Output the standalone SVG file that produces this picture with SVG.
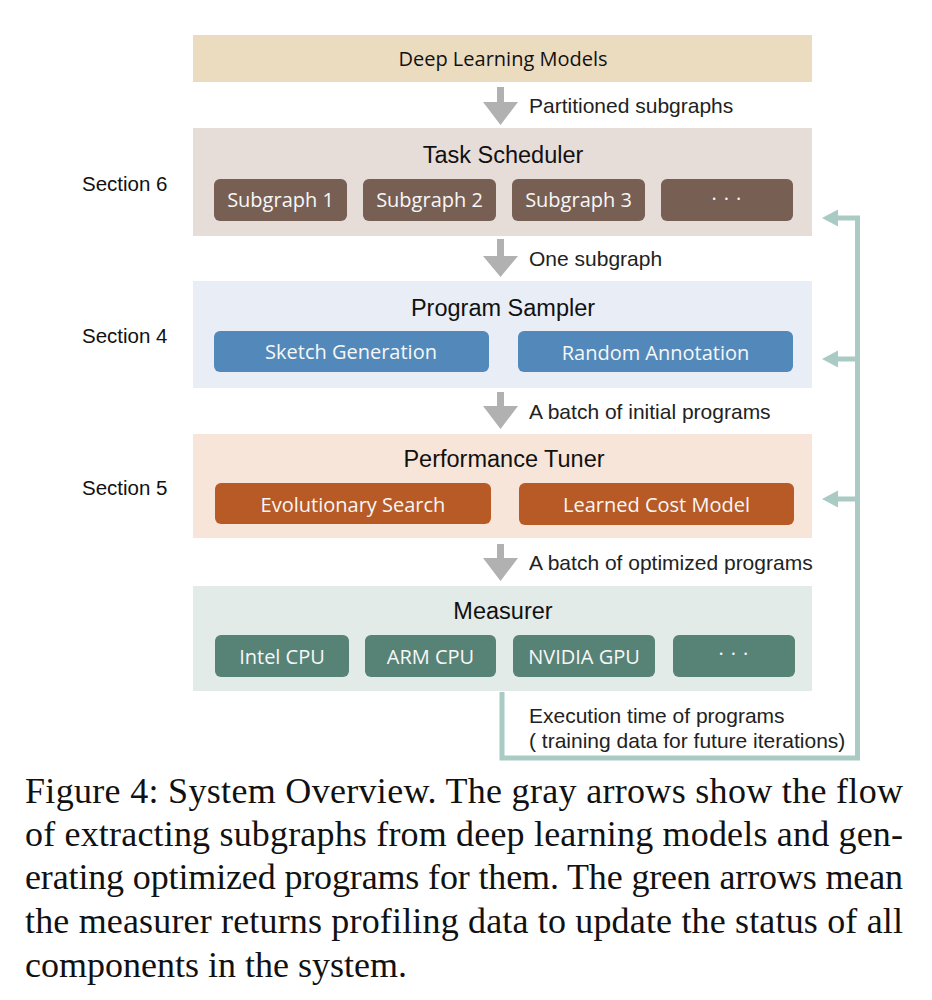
<svg xmlns="http://www.w3.org/2000/svg" width="932" height="1000" viewBox="0 0 932 1000">
  <style>
    .panel-title { font-family: "Liberation Sans", Arial, sans-serif; font-size: 23.5px; fill: #111; text-anchor: middle; }
    .btn-label { font-family: "Open Sans", "Noto Sans", sans-serif; font-size: 20px; fill: #f7f7f7; text-anchor: middle; }
    .flow-label { font-family: "Liberation Sans", Arial, sans-serif; font-size: 21px; fill: #222; }
    .section { font-family: "Liberation Sans", Arial, sans-serif; font-size: 20.5px; fill: #111; }
    .caption { font-family: "Liberation Serif", "Times New Roman", serif; font-size: 36px; fill: #111; }
    .gray-arrow { fill: #b1b1b1; }
    .feedback { fill: none; stroke: #a9cbc3; stroke-width: 5; }
    .feedback-head { fill: #a9cbc3; }
  </style>

  <rect width="932" height="1000" fill="#ffffff"/>

  <!-- Input -->
  <g id="deep-learning-models">
    <rect x="193" y="35" width="619" height="47" fill="#ebdcc0"/>
    <text x="503" y="66" class="btn-label" style="fill:#111">Deep Learning Models</text>
  </g>

  <!-- Task scheduler -->
  <g id="task-scheduler">
    <rect x="193" y="128" width="619" height="108" fill="#e6ddd9"/>
    <text x="503" y="163" class="panel-title">Task Scheduler</text>
    <rect x="214" y="179" width="133" height="42" rx="6" fill="#775f54"/>
    <text x="280.5" y="207" class="btn-label">Subgraph 1</text>
    <rect x="363" y="179" width="133" height="42" rx="6" fill="#775f54"/>
    <text x="429.5" y="207" class="btn-label">Subgraph 2</text>
    <rect x="512" y="179" width="133" height="42" rx="6" fill="#775f54"/>
    <text x="578.5" y="207" class="btn-label">Subgraph 3</text>
    <rect x="661" y="179" width="132" height="42" rx="6" fill="#775f54"/>
    <text x="730" y="206" class="btn-label" letter-spacing="7">···</text>
  </g>

  <!-- Program sampler -->
  <g id="program-sampler">
    <rect x="193" y="281" width="619" height="107" fill="#e9eef6"/>
    <text x="503" y="316" class="panel-title">Program Sampler</text>
    <rect x="214" y="331" width="275" height="41" rx="6" fill="#5389ba"/>
    <text x="351" y="359" class="btn-label">Sketch Generation</text>
    <rect x="518" y="331" width="275" height="41" rx="6" fill="#5389ba"/>
    <text x="655.5" y="360" class="btn-label">Random Annotation</text>
  </g>

  <!-- Performance tuner -->
  <g id="performance-tuner">
    <rect x="193" y="434" width="619" height="104" fill="#f8e5da"/>
    <text x="504" y="467" class="panel-title">Performance Tuner</text>
    <rect x="215" y="483" width="276" height="41" rx="6" fill="#b85a25"/>
    <text x="353" y="512" class="btn-label">Evolutionary Search</text>
    <rect x="519" y="483" width="275" height="42" rx="6" fill="#b85a25"/>
    <text x="656.5" y="512" class="btn-label">Learned Cost Model</text>
  </g>

  <!-- Measurer -->
  <g id="measurer">
    <rect x="193" y="586" width="619" height="105" fill="#e3ebe8"/>
    <text x="503" y="619" class="panel-title">Measurer</text>
    <rect x="215" y="635" width="134" height="42" rx="6" fill="#578377"/>
    <text x="282" y="664" class="btn-label">Intel CPU</text>
    <rect x="365" y="635" width="131" height="42" rx="6" fill="#578377"/>
    <text x="430.5" y="664" class="btn-label">ARM CPU</text>
    <rect x="513" y="635" width="142" height="42" rx="6" fill="#578377"/>
    <text x="584" y="664" class="btn-label">NVIDIA GPU</text>
    <rect x="673" y="635" width="122" height="42" rx="6" fill="#578377"/>
    <text x="737" y="661" class="btn-label" letter-spacing="7">···</text>
  </g>

  <!-- Section labels -->
  <g id="section-labels">
    <text x="82" y="191" class="section">Section 6</text>
    <text x="82" y="343" class="section">Section 4</text>
    <text x="82" y="495" class="section">Section 5</text>
  </g>

  <!-- Connectors -->
  <g id="connectors">
    <!-- forward flow (gray) -->
    <polygon class="gray-arrow" points="497,87 504,87 504,102 518,102 500.5,125 483,102 497,102"/>
    <text x="529" y="113" class="flow-label">Partitioned subgraphs</text>

    <polygon class="gray-arrow" points="497,239 504,239 504,256 518,256 500.5,277 483,256 497,256"/>
    <text x="529" y="266" class="flow-label">One subgraph</text>

    <polygon class="gray-arrow" points="497,392 504,392 504,406 518,406 500.5,429 483,406 497,406"/>
    <text x="529" y="419" class="flow-label">A batch of initial programs</text>

    <polygon class="gray-arrow" points="497,544 504,544 504,558 518,558 500.5,581 483,558 497,558"/>
    <text x="529" y="570" class="flow-label">A batch of optimized programs</text>

    <!-- feedback loop (green) -->
    <path class="feedback" d="M502,692 V758 H857.5 V218 H836"/>
    <path class="feedback" d="M857.5,359 H836 M857.5,499 H836"/>
    <polygon class="feedback-head" points="822,218 838,209.5 838,226.5"/>
    <polygon class="feedback-head" points="822,359 838,350.5 838,367.5"/>
    <polygon class="feedback-head" points="822,499 838,490.5 838,507.5"/>
    <text x="529" y="723" class="flow-label">Execution time of programs</text>
    <text x="529" y="748" class="flow-label">( training data for future iterations)</text>
  </g>

  <!-- Caption -->
  <g id="caption">
    <text x="25" y="803" class="caption" textLength="878" lengthAdjust="spacing">Figure 4: System Overview. The gray arrows show the flow</text>
    <text x="25" y="846" class="caption" textLength="878" lengthAdjust="spacing">of extracting subgraphs from deep learning models and gen-</text>
    <text x="25" y="889" class="caption" textLength="878" lengthAdjust="spacing">erating optimized programs for them. The green arrows mean</text>
    <text x="25" y="933" class="caption" textLength="878" lengthAdjust="spacing">the measurer returns profiling data to update the status of all</text>
    <text x="25" y="977" class="caption">components in the system.</text>
  </g>
</svg>
